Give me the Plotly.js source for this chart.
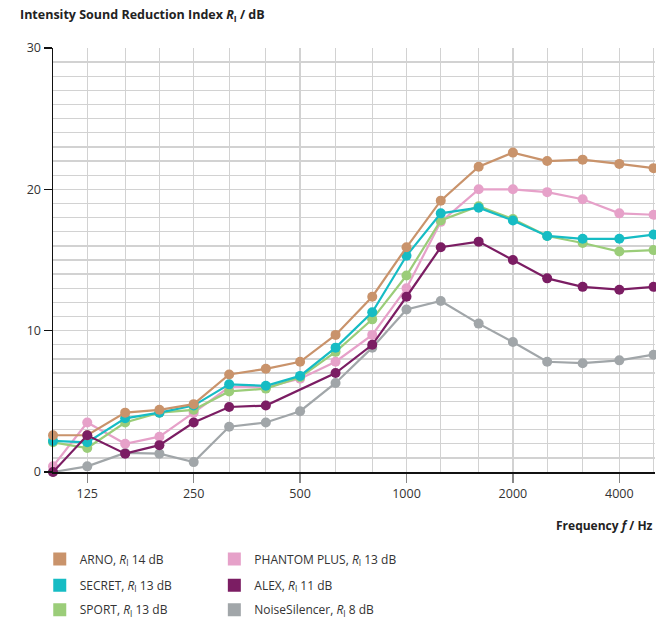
<!DOCTYPE html>
<html>
<head>
<meta charset="utf-8">
<script src="https://cdn.plot.ly/plotly-3.0.1.min.js"></script>
<style>html,body{margin:0;padding:0;background:#fff;}#chart{width:656px;height:620px;}</style>
</head>
<body>
<div id="chart"></div>
<script>
var freqs = [100,125,160,200,250,315,400,500,630,800,1000,1250,1600,2000,2500,3150,4000,5000];
var labelFreqs = [125,250,500,1000,2000,4000];
var labelText = ['125','250','500','1000','2000','4000'];

var arno    = [2.6,2.6,4.2,4.4,4.8,6.9,7.3,7.8,9.7,12.4,15.9,19.2,21.6,22.6,22.0,22.1,21.8,21.5];
var secret  = [2.2,2.1,3.8,4.2,4.7,6.2,6.1,6.8,8.8,11.3,15.3,18.3,18.7,17.8,16.7,16.5,16.5,16.8];
var sport   = [2.1,1.7,3.5,4.2,4.4,5.7,5.9,6.7,8.5,10.8,13.9,17.8,18.8,17.9,16.7,16.2,15.6,15.7];
var phantom = [0.4,3.5,2.0,2.5,4.2,6.0,6.0,6.6,7.8,9.7,13.0,17.7,20.0,20.0,19.8,19.3,18.3,18.2];
var alex    = [0.0,2.6,1.3,1.9,3.5,4.6,4.7,null,7.0,9.0,12.4,15.9,16.3,15.0,13.7,13.1,12.9,13.1];
var noise   = [0.0,0.4,1.35,1.3,0.7,3.2,3.5,4.3,6.3,8.8,11.5,12.1,10.5,9.2,7.8,7.7,7.9,8.3];

var series = [
  {name:'ARNO', rating:'14', y:arno, color:'#C9936B', legend:'legend'},
  {name:'SECRET', rating:'13', y:secret, color:'#16BCC4', legend:'legend2'},
  {name:'SPORT', rating:'13', y:sport, color:'#9BCD79', legend:'legend3'},
  {name:'PHANTOM PLUS', rating:'13', y:phantom, color:'#E6A1C9', legend:'legend4'},
  {name:'ALEX', rating:'11', y:alex, color:'#7B1D63', legend:'legend5'},
  {name:'NoiseSilencer', rating:'8', y:noise, color:'#A1A6A9', legend:'legend6'}
];
var drawOrder = ['NoiseSilencer','PHANTOM PLUS','SPORT','SECRET','ARNO','ALEX'];

var traces = [];
drawOrder.forEach(function(n){
  var s = series.filter(function(t){return t.name===n;})[0];
  traces.push({
    x: freqs, y: s.y, type:'scatter', mode:'lines+markers', connectgaps:true,
    line:{color:s.color, width:2.2}, marker:{color:s.color, size:10},
    showlegend:false, cliponaxis:false, hoverinfo:'skip'
  });
});
series.forEach(function(s){
  traces.push({
    x:[null], y:[null], type:'scatter', mode:'markers',
    marker:{color:s.color, size:13, symbol:'square'},
    name: s.name + ', <i>R</i><sub>I</sub> ' + s.rating + ' dB',
    legend: s.legend, showlegend:true
  });
});

var font = 'Open Sans, Noto Sans, sans-serif';
function leg(x, y){
  return {x:x, y:y, xanchor:'left', yanchor:'middle', bgcolor:'rgba(0,0,0,0)',
          font:{family:font, size:12, color:'#333'}, itemwidth:30, borderwidth:0};
}
var c1 = -0.022, c2 = 0.268;
var r1 = -0.205, r2 = -0.267, r3 = -0.325;

var layout = {
  width:656, height:620,
  margin:{l:53, r:1, t:48, b:148, autoexpand:false},
  paper_bgcolor:'#fff', plot_bgcolor:'#fff',
  font:{family:font, color:'#333'},
  title:{text:'<b>Intensity Sound Reduction Index <i>R</i><sub>I</sub> / dB</b>',
         x:20/656, xref:'container', xanchor:'left', y:1-15/620, yref:'container', yanchor:'middle',
         font:{family:font, size:12.5, color:'#222'}},
  xaxis:{type:'log', range:[2, Math.log10(5000)+0.004],
         tickmode:'array', tickvals:labelFreqs, ticktext:labelText,
         ticks:'outside', ticklen:9, tickwidth:1.5, tickcolor:'#888',
         tickfont:{family:font, size:12.5, color:'#333'},
         showgrid:true, gridcolor:'#d2d2d2', gridwidth:1.3,
         minor:{tickmode:'array', tickvals:freqs, showgrid:true, gridcolor:'#d2d2d2', gridwidth:1.3, ticks:''},
         showline:true, linecolor:'#111', linewidth:1.5, zeroline:false, fixedrange:true},
  yaxis:{range:[0,30], tickmode:'array', tickvals:[0,10,20,30],
         ticks:'outside', ticklen:8, tickwidth:1.2, tickcolor:'#111',
         tickfont:{family:font, size:12.5, color:'#333'},
         showgrid:true, gridcolor:'#d2d2d2', gridwidth:1.3,
         minor:{dtick:1, showgrid:true, gridcolor:'#d2d2d2', gridwidth:1.3, ticks:''},
         showline:true, linecolor:'#111', linewidth:1.5, zeroline:false, fixedrange:true},
  annotations:[{text:'<b>Frequency <i>f</i> / Hz</b>', xref:'paper', yref:'paper', x:1, y:(472-525)/424,
                xanchor:'right', yanchor:'middle', showarrow:false,
                font:{family:font, size:12, color:'#222'}}],
  legend:leg(c1, r1), legend2:leg(c1, r2), legend3:leg(c1, r3),
  legend4:leg(c2, r1), legend5:leg(c2, r2), legend6:leg(c2, r3)
};

Plotly.newPlot('chart', traces, layout, {displayModeBar:false, staticPlot:true});
</script>
</body>
</html>
